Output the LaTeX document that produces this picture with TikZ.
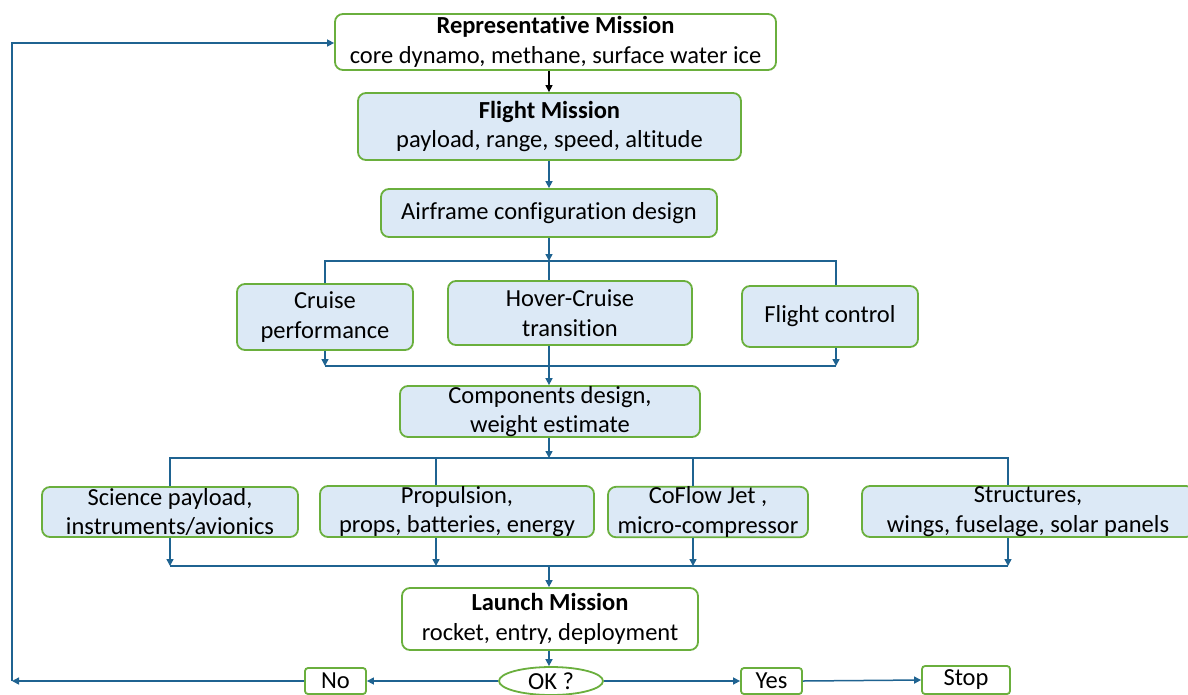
\documentclass[tikz,border=0pt]{standalone}
\usepackage{fontspec}
\setmainfont{Carlito}[Ligatures=NoCommon]
\usetikzlibrary{arrows.meta,shapes.geometric}
\definecolor{lineblue}{HTML}{1F6391}
\definecolor{boxgreen}{HTML}{6AAF3D}
\definecolor{boxfill}{HTML}{DCE9F6}
\tikzset{
  box/.style={draw=boxgreen,line width=1.8pt,rounded corners=8pt,fill=boxfill,
    inner sep=0pt,align=center,font=\fontsize{24.5}{29.5}\selectfont},
  wbox/.style={box,fill=white},
  conn/.style={draw=lineblue,line width=1.5pt},
  arr/.style={conn,-{Triangle[length=7pt,width=7pt]}},
  barr/.style={draw=black,line width=1.2pt,-{Triangle[length=7pt,width=7pt]}},
}
\begin{document}
\begin{tikzpicture}[x=1pt,y=-1pt]
\useasboundingbox (0,0) rectangle (1188,694);
% nodes
\node[wbox,minimum width=441pt,minimum height=56pt] (rep) at (555.5,42) {\textbf{Representative Mission}\\core dynamo, methane, surface water ice};
\node[box,minimum width=383pt,minimum height=67pt] (fm) at (549.5,126.5) {\textbf{Flight Mission}\\payload, range, speed, altitude};
\node[box,minimum width=336pt,minimum height=48pt] (air) at (549,213) {Airframe configuration design};
\node[box,minimum width=176pt,minimum height=66pt] (cru) at (325,317) {Cruise\\performance};
\node[box,minimum width=244pt,minimum height=64pt] (hov) at (570,313) {Hover-Cruise\\transition};
\node[box,minimum width=176pt,minimum height=61pt] (fc) at (830,316.5) {Flight control};
\node[box,minimum width=300pt,minimum height=51pt] (comp) at (550,411.5) {Components design,\\weight estimate};
\node[box,minimum width=256pt,minimum height=50pt] (sci) at (170,512) {Science payload,\\instruments/avionics};
\node[box,minimum width=274pt,minimum height=51pt] (pro) at (457,511.5) {Propulsion,\\props, batteries, energy};
\node[box,minimum width=200pt,minimum height=50pt] (cof) at (708,512) {CoFlow Jet ,\\micro-compressor};
\node[box,minimum width=332pt,minimum height=51pt] (str) at (1028,511.5) {Structures,\\wings, fuselage, solar panels};
\node[wbox,minimum width=296pt,minimum height=62pt] (lau) at (550,619) {\textbf{Launch Mission}\\rocket, entry, deployment};
\node[wbox,ellipse,minimum width=104pt,minimum height=28pt] (ok) at (551,681) {OK ?};
\node[wbox,rounded corners=3pt,minimum width=61pt,minimum height=26pt] (no) at (335.5,681) {No};
\node[wbox,rounded corners=3pt,minimum width=61pt,minimum height=26pt] (yes) at (771.5,681) {Yes};
\node[wbox,rounded corners=3pt,minimum width=88pt,minimum height=28pt] (stop) at (966,680) {Stop};
% bus coordinates
\coordinate (b1c) at (549,261); \coordinate (b1l) at (325,261); \coordinate (b1r) at (836,261);
\coordinate (b2c) at (549,366); \coordinate (b2l) at (325,366); \coordinate (b2r) at (836,366);
\coordinate (b3c) at (549,458); \coordinate (b3a) at (170,458); \coordinate (b3b) at (436,458);
\coordinate (b3d) at (693,458); \coordinate (b3e) at (1008,458);
\coordinate (b4c) at (549,566); \coordinate (b4a) at (170,566); \coordinate (b4b) at (436,566);
\coordinate (b4d) at (693,566); \coordinate (b4e) at (1008,566);
\coordinate (lp) at (12,681); \coordinate (lt) at (12,43);
% connectors
\draw[barr] (rep.south -| b1c) -- (fm.north -| b1c);
\draw[arr] (fm.south -| b1c) -- (air.north -| b1c);
\draw[arr] (air.south -| b1c) -- (b1c);
\draw[conn] (cru.north -| b1l) -- (b1l) -- (b1r) -- (fc.north -| b1r);
\draw[conn] (b1c) -- (hov.north -| b1c);
\draw[arr] (cru.south -| b2l) -- (b2l);
\draw[arr] (fc.south -| b2r) -- (b2r);
\draw[conn] (b2l) -- (b2r);
\draw[arr] (hov.south -| b2c) -- (comp.north -| b2c);
\draw[arr] (comp.south -| b3c) -- (b3c);
\draw[conn] (sci.north -| b3a) -- (b3a) -- (b3e) -- (str.north -| b3e);
\draw[conn] (b3b) -- (pro.north -| b3b);
\draw[conn] (b3d) -- (cof.north -| b3d);
\draw[arr] (sci.south -| b4a) -- (b4a);
\draw[arr] (pro.south -| b4b) -- (b4b);
\draw[arr] (cof.south -| b4d) -- (b4d);
\draw[arr] (str.south -| b4e) -- (b4e);
\draw[conn] (b4a) -- (b4e);
\draw[arr] (b4c) -- (lau.north -| b4c);
\draw[arr] (lau.south -| b4c) -- (ok.north -| b4c);
\draw[arr] (ok.west) -- (no.east);
\draw[arr] (no.west) -- (lp);
\draw[arr] (lp) -- (lt) -- (rep.west |- lt);
\draw[arr] (ok.east) -- (yes.west);
\draw[arr] (yes.east) -- (stop.west);
\end{tikzpicture}
\end{document}
